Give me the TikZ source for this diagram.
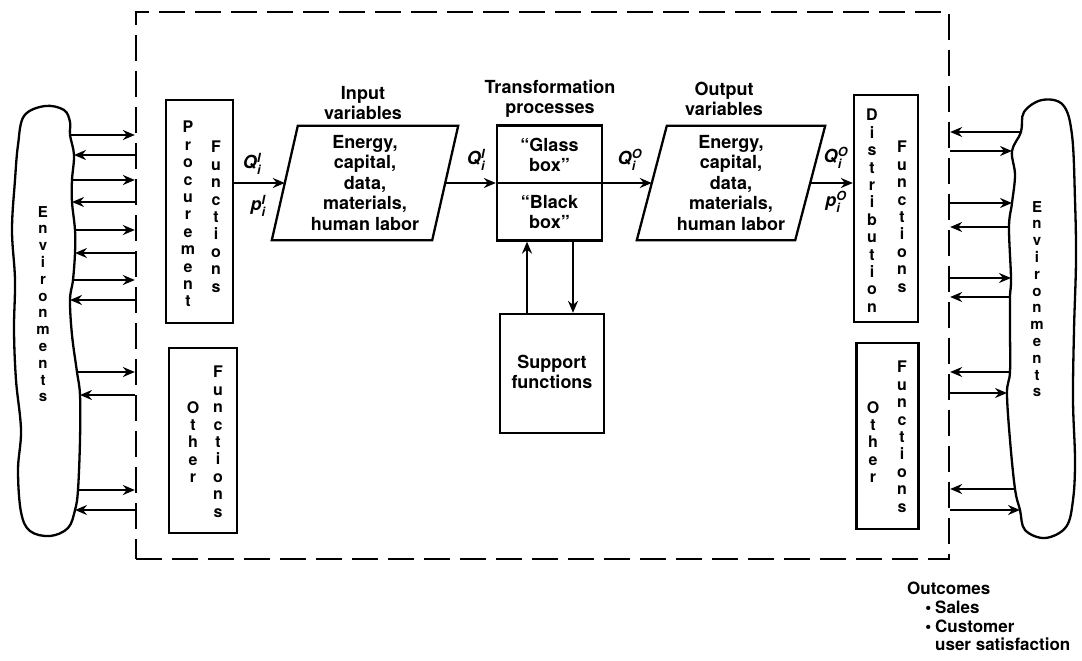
\documentclass[tikz,border=0pt]{standalone}
\usepackage{amsmath}
\usepackage{fontspec}
\setmainfont{TeX Gyre Heros}
\usetikzlibrary{arrows.meta}

\newcommand\qv[3]{\textit{#1}$_{\text{\bfseries\itshape #2}}^{\text{\bfseries\itshape #3}}$}

\tikzset{
  box/.style={draw,line width=2.3pt,inner sep=0pt},
  arr/.style={line width=2.3pt},
  lbl/.style={align=center,inner sep=0pt,font=\bfseries\fontsize{18}{20.5}\selectfont},
  vword/.style={align=center,inner sep=0pt,anchor=north,font=\bfseries\fontsize{16}{17.4}\selectfont},
  envword/.style={vword,font=\bfseries\fontsize{15}{16.8}\selectfont},
  frame/.style={draw,line width=2.3pt,dash pattern=on 26pt off 10pt,inner sep=0pt,
    minimum width=813,minimum height=547},
}

\begin{document}
\begin{tikzpicture}[x=1pt,y=-1pt,>={Stealth[length=12pt,width=10pt,inset=4pt]}]
\useasboundingbox (0,0) rectangle (1082,661);
%\draw[help lines] (0,0) grid[step=50] (1082,661);
\node[frame] (frame) at (542.5,285.5) {};
%
% environments
\draw[arr] plot[smooth cycle,tension=0.6] coordinates {(45,106) (64,110) (70,122) (70,135)
  (74,155) (72,180) (72,202) (75,230) (75,253) (73,280) (70,300) (72,335) (77,372) (80,395)
  (80,440) (78,490) (75,510) (68,528) (50,536) (30,531) (21,512) (18,470) (21,430) (16,380)
  (14,330) (15,280) (12,230) (15,180) (18,145) (24,116)};
\draw[arr] plot[smooth cycle,tension=0.6] coordinates {(1042,100) (1063,105) (1072,135)
  (1075,200) (1076,260) (1074,330) (1073,400) (1075,460) (1073,500) (1066,527) (1045,538)
  (1025,530) (1020,510) (1015,489) (1010,440) (1007,393) (1010,372) (1010,330) (1010,297)
  (1011,278) (1009,227) (1012,203) (1015,175) (1012,151) (1021,132) (1024,112)};
\node[envword] (envL) at (43,206) {E\\n\\v\\i\\r\\o\\n\\m\\e\\n\\t\\s};
\node[envword] (envR) at (1037,201) {E\\n\\v\\i\\r\\o\\n\\m\\e\\n\\t\\s};
%
\foreach \x/\y [count=\i] in {70/135,72/180,75/230,73/280,77/372,78/490}
  {\coordinate (lo\i) at (\x,\y); \draw[arr,->] (lo\i) -- (lo\i -| frame.west);}
\foreach \x/\y [count=\i] in {74/155,72/202,75/253,70/300,80/395,75/510}
  {\coordinate (li\i) at (\x,\y); \draw[arr,<-] (li\i) -- (li\i -| frame.west);}
\foreach \x/\y [count=\i] in {1021/132,1009/227,1010/297,1010/372,1015/489}
  {\coordinate (ro\i) at (\x,\y); \draw[arr,->] (ro\i) -- (ro\i -| frame.east);}
\foreach \x/\y [count=\i] in {1012/151,1012/203,1011/278,1007/393,1020/510}
  {\coordinate (ri\i) at (\x,\y); \draw[arr,<-] (ri\i) -- (ri\i -| frame.east);}
%
% functions
\node[box,minimum width=67,minimum height=223] (proc) at (199.5,211.5) {};
\node[vword] (procA) at (188,121) {P\\r\\o\\c\\u\\r\\e\\m\\e\\n\\t};
\node[vword] (procB) at (216,141) {F\\u\\n\\c\\t\\i\\o\\n\\s};
\node[box,minimum width=68,minimum height=185] (othL) at (203,440.5) {};
\node[vword] (othLA) at (193,401) {O\\t\\h\\e\\r};
\node[vword] (othLB) at (218,366) {F\\u\\n\\c\\t\\i\\o\\n\\s};
\node[box,minimum width=64,minimum height=227] (dist) at (886,208.5) {};
\node[vword] (distA) at (872,109) {D\\i\\s\\t\\r\\i\\b\\u\\t\\i\\o\\n};
\node[vword] (distB) at (902,141) {F\\u\\n\\c\\t\\i\\o\\n\\s};
\node[box,minimum width=62,minimum height=186] (othR) at (887.5,436) {};
\node[vword] (othRA) at (873,401) {O\\t\\h\\e\\r};
\node[vword] (othRB) at (902,361) {F\\u\\n\\c\\t\\i\\o\\n\\s};
%
% variables and processes
\node[lbl] (inT) at (363,103) {Input\\variables};
\node[lbl] (trT) at (550,99) {Transformation\\processes};
\node[lbl] (ouT) at (724,99) {Output\\variables};
\node[lbl,minimum width=160,minimum height=114] (inv) at (365,183)
  {Energy,\\capital,\\data,\\materials,\\human labor};
\draw[box] ([xshift=13pt]inv.north west) -- ([xshift=13pt]inv.north east)
  -- ([xshift=-13pt]inv.south east) -- ([xshift=-13pt]inv.south west) -- cycle;
\node[lbl,minimum width=158,minimum height=114] (outv) at (731,183)
  {Energy,\\capital,\\data,\\materials,\\human labor};
\draw[box] ([xshift=15pt]outv.north west) -- ([xshift=15pt]outv.north east)
  -- ([xshift=-15pt]outv.south east) -- ([xshift=-15pt]outv.south west) -- cycle;
\node[box,minimum width=105,minimum height=115] (trans) at (549.5,183) {};
\node[lbl] (glass) at (549.5,155) {``Glass\\box''};
\node[lbl] (black) at (549.5,212) {``Black\\box''};
\node[box,minimum width=104,minimum height=119] (supp) at (552,373.5) {};
\node[lbl] (suppT) at (552,372) {Support\\functions};
%
\draw[arr,->] (proc.east |- inv.west) -- (inv.west);
\draw[arr,->] (inv.east) -- (trans.west);
\draw[arr] (trans.west) -- (trans.east);
\draw[arr,->] (trans.east) -- (outv.west);
\draw[arr,->] (outv.east) -- (outv.east -| dist.west);
\coordinate (su1) at ([xshift=-25pt]supp.north);
\coordinate (su2) at ([xshift=21pt]supp.north);
\draw[arr,->] (su1) -- (su1 |- trans.south);
\draw[arr,<-] (su2) -- (su2 |- trans.south);
%
\node[lbl] (qIa) at (252,164) {\qv{Q}{i}{I}};
\node[lbl] (pIa) at (258,206) {\qv{p}{i}{I}};
\node[lbl] (qIb) at (476,160) {\qv{Q}{i}{I}};
\node[lbl] (qOa) at (630,160) {\qv{Q}{i}{O}};
\node[lbl] (qOb) at (836,158) {\qv{Q}{i}{O}};
\node[lbl] (pOb) at (836,202) {\qv{p}{i}{O}};
%
\node[lbl,align=left,anchor=north west,font=\bfseries\fontsize{17}{18.6}\selectfont] (outc)
  at (907,582) {Outcomes\\\hspace{28pt}\llap{\textbullet\hspace{4pt}}Sales\\
  \hspace{28pt}\llap{\textbullet\hspace{4pt}}Customer\\\hspace{28pt}user satisfaction};
\end{tikzpicture}
\end{document}
